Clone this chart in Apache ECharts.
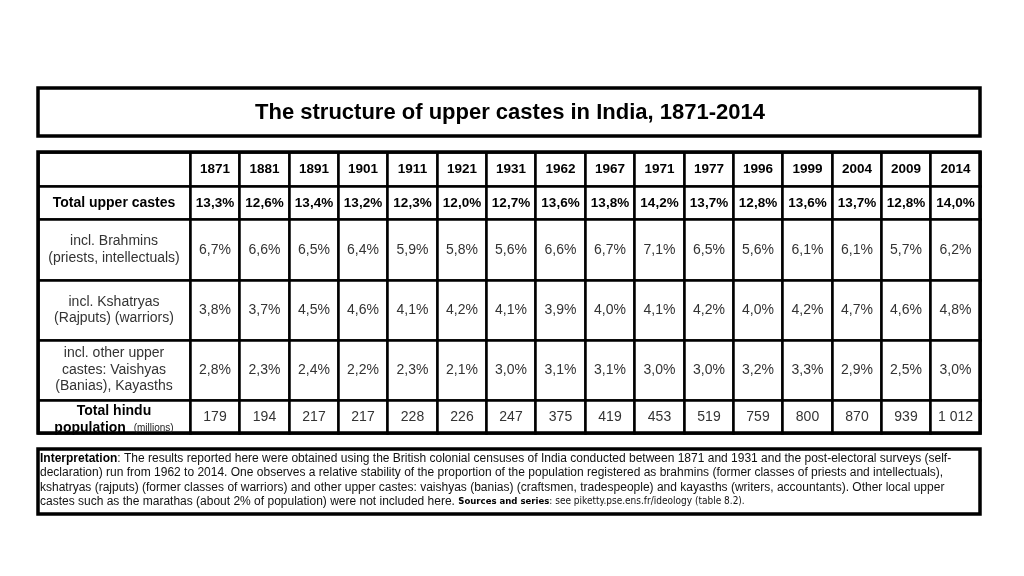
<!DOCTYPE html>
<html><head><meta charset="utf-8">
<script src="https://cdn.jsdelivr.net/npm/echarts@6/dist/echarts.min.js"></script>
<style>html,body{margin:0;padding:0;background:#fff}#c{width:1024px;height:576px}</style>
</head><body><div id="c"></div>
<script>
const titleText = 'The structure of upper castes in India, 1871-2014';
const years = ['1871','1881','1891','1901','1911','1921','1931','1962','1967','1971','1977','1996','1999','2004','2009','2014'];
const totalUpper = [13.3,12.6,13.4,13.2,12.3,12.0,12.7,13.6,13.8,14.2,13.7,12.8,13.6,13.7,12.8,14.0];
const brahmins = [6.7,6.6,6.5,6.4,5.9,5.8,5.6,6.6,6.7,7.1,6.5,5.6,6.1,6.1,5.7,6.2];
const kshatryas = [3.8,3.7,4.5,4.6,4.1,4.2,4.1,3.9,4.0,4.1,4.2,4.0,4.2,4.7,4.6,4.8];
const otherUpper = [2.8,2.3,2.4,2.2,2.3,2.1,3.0,3.1,3.1,3.0,3.0,3.2,3.3,2.9,2.5,3.0];
const hinduPop = [179,194,217,217,228,226,247,375,419,453,519,759,800,870,939,1012];
const rowLabels = [
  '{b|Total upper castes}',
  'incl. Brahmins\n(priests, intellectuals)',
  'incl. Kshatryas\n(Rajputs) (warriors)',
  'incl. other upper\ncastes: Vaishyas\n(Banias), Kayasths',
  '{b|Total hindu}\n{b|population}  {m|(millions)}'
];
const noteLines = [
  '{b|Interpretation}: The results reported here were obtained using the British colonial censuses of India conducted between 1871 and 1931 and the post-electoral surveys (self-',
  'declaration) run from 1962 to 2014. One observes a relative stability of the proportion of the population registered as brahmins (former classes of priests and intellectuals),',
  'kshatryas (rajputs) (former classes of warriors) and other upper castes: vaishyas (banias) (craftsmen, tradespeople) and kayasths (writers, accountants). Other local upper',
  'castes such as the marathas (about 2% of population) were not included here. {s|Sources and series}{t|: see piketty.pse.ens.fr/ideology (table 8.2).}'
];

// layout (not data)
const rowKeys = ['hdr','total','brah','ksha','oth','pop'];
const rowHeights = [34, 33, 61, 60, 60, 33];
const labelShift = [1, 0, 0, 0, 3];
const firstColWidth = 152;

const pct = v => v.toFixed(1).replace('.', ',') + '%';
const popFmt = v => v >= 1000 ? Math.floor(v / 1000) + ' ' + String(v % 1000).padStart(3, '0') : String(v);

const FONT = 'Liberation Sans, Arial, sans-serif';
const NARROW = '"Liberation Sans Narrow", "Arial Narrow", "DejaVu Sans Condensed", sans-serif';
const richStyles = {
  b: { fontWeight: 'bold', fontSize: 14, fill: '#000', fontFamily: FONT, lineHeight: 17 },
  m: { fontSize: 10, fill: '#222', fontFamily: FONT, lineHeight: 17 }
};

const xData = [{ value: 'label', size: firstColWidth }].concat(years.map(y => ({ value: y })));
const yData = rowKeys.map((k, i) => ({ value: k, size: rowHeights[i] }));

const cells = [];
years.forEach(y => cells.push({ coord: [y, 'hdr'], value: y,
  label: { fontWeight: 'bold', fontSize: 13.5, color: '#000', overflow: 'none' } }));
const bodyRows = [
  ['total', totalUpper, pct, true],
  ['brah', brahmins, pct, false],
  ['ksha', kshatryas, pct, false],
  ['oth', otherUpper, pct, false],
  ['pop', hinduPop, popFmt, false]
];
bodyRows.forEach(([key, arr, fmt, bold]) => {
  arr.forEach((v, i) => cells.push({ coord: [years[i], key], value: fmt(v),
    label: bold ? { fontWeight: 'bold', fontSize: 13.5, color: '#000', overflow: 'none' }
                : { fontSize: 14, color: '#333', overflow: 'none' } }));
});
const labelData = bodyRows.map(([key], r) => ['label', key, r]);

const chart = echarts.init(document.getElementById('c'), null, { renderer: 'canvas' });
chart.setOption({
  backgroundColor: '#fff',
  animation: false,
  matrix: {
    left: 38, top: 152, width: 942, height: 281,
    x: { show: false, data: xData },
    y: { show: false, data: yData },
    body: {
      data: cells,
      itemStyle: { borderColor: '#000', borderWidth: 2.5, color: '#fff' },
      label: { color: '#333', fontSize: 14, fontFamily: FONT }
    },
    backgroundStyle: { borderColor: '#000', borderWidth: 3.5, color: '#fff' }
  },
  series: [{
    type: 'custom',
    coordinateSystem: 'matrix',
    data: labelData,
    z: 10,
    renderItem: function (params, api) {
      const item = labelData[params.dataIndex];
      const p = api.coord([item[0], item[1]]);
      return {
        type: 'text',
        x: p[0], y: p[1] + labelShift[item[2]],
        style: {
          text: rowLabels[item[2]],
          fontFamily: FONT, fontSize: 14, lineHeight: 16.5, fill: '#333',
          align: 'center', verticalAlign: 'middle',
          rich: richStyles
        }
      };
    }
  }],
  graphic: [
    { type: 'rect', shape: { x: 38, y: 88, width: 942, height: 48 },
      style: { fill: '#fff', stroke: '#000', lineWidth: 3.5 } },
    { type: 'text', x: 510, y: 113,
      style: { text: titleText, font: 'bold 22px ' + FONT, fill: '#000', align: 'center', verticalAlign: 'middle' } },
    { type: 'rect', shape: { x: 38, y: 449, width: 942, height: 65 },
      style: { fill: '#fff', stroke: '#000', lineWidth: 3.5 } },
    { type: 'text', x: 40, y: 451,
      style: { text: noteLines.join('\n'), font: '12px ' + FONT, fill: '#111', lineHeight: 14.5,
        rich: {
          b: { fontWeight: 'bold', fontSize: 12, fontFamily: FONT, fill: '#000', lineHeight: 14.5 },
          s: { fontWeight: 'bold', fontSize: 9.5, fontFamily: NARROW, fill: '#000', lineHeight: 14.5 },
          t: { fontSize: 10, fontFamily: NARROW, fill: '#111', lineHeight: 14.5 }
        } } }
  ]
});
</script></body></html>
